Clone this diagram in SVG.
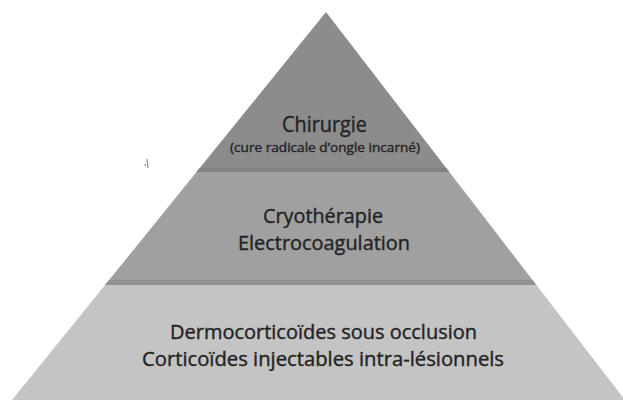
<svg xmlns="http://www.w3.org/2000/svg" width="623" height="401" viewBox="0 0 623 401">
  <defs>
    <style>
      .t { font-family: "Open Sans", "Liberation Sans", sans-serif; fill: #222222; stroke: #282828; stroke-width: 0.4; text-anchor: middle; }
    </style>
    <clipPath id="pyr">
      <polygon points="326,12 12,400 625,400"/>
    </clipPath>
  </defs>
  <rect width="623" height="401" fill="#ffffff"/>
  <path d="M147,159 l1,9 M145,164 l0.5,2" stroke="#8a8a8a" stroke-width="1.2" fill="none"/>
  <g clip-path="url(#pyr)">
    <g id="tier-top">
      <rect x="0" y="0" width="623" height="172" fill="#8c8c8c"/>
      <rect x="0" y="168" width="623" height="4" fill="#828282"/>
      <text class="t" x="324.5" y="132" font-size="22" textLength="85" lengthAdjust="spacingAndGlyphs">Chirurgie</text>
      <text class="t" x="325" y="152" font-size="13" textLength="190" lengthAdjust="spacingAndGlyphs">(cure radicale d’ongle incarné)</text>
    </g>
    <g id="tier-middle">
      <rect x="0" y="172" width="623" height="113" fill="#a0a0a0"/>
      <rect x="0" y="280" width="623" height="5" fill="#929292"/>
      <text class="t" x="323" y="223" font-size="20" textLength="120" lengthAdjust="spacingAndGlyphs">Cryothérapie</text>
      <text class="t" x="324" y="250" font-size="20" textLength="172" lengthAdjust="spacingAndGlyphs">Electrocoagulation</text>
    </g>
    <g id="tier-bottom">
      <rect x="0" y="285" width="623" height="116" fill="#c4c4c4"/>
      <text class="t" x="323.5" y="339" font-size="20" textLength="307" lengthAdjust="spacingAndGlyphs">Dermocorticoïdes sous occlusion</text>
      <text class="t" x="323" y="366" font-size="20" textLength="362" lengthAdjust="spacingAndGlyphs">Corticoïdes injectables intra-lésionnels</text>
    </g>
  </g>
  <g id="connectors"></g>
</svg>
